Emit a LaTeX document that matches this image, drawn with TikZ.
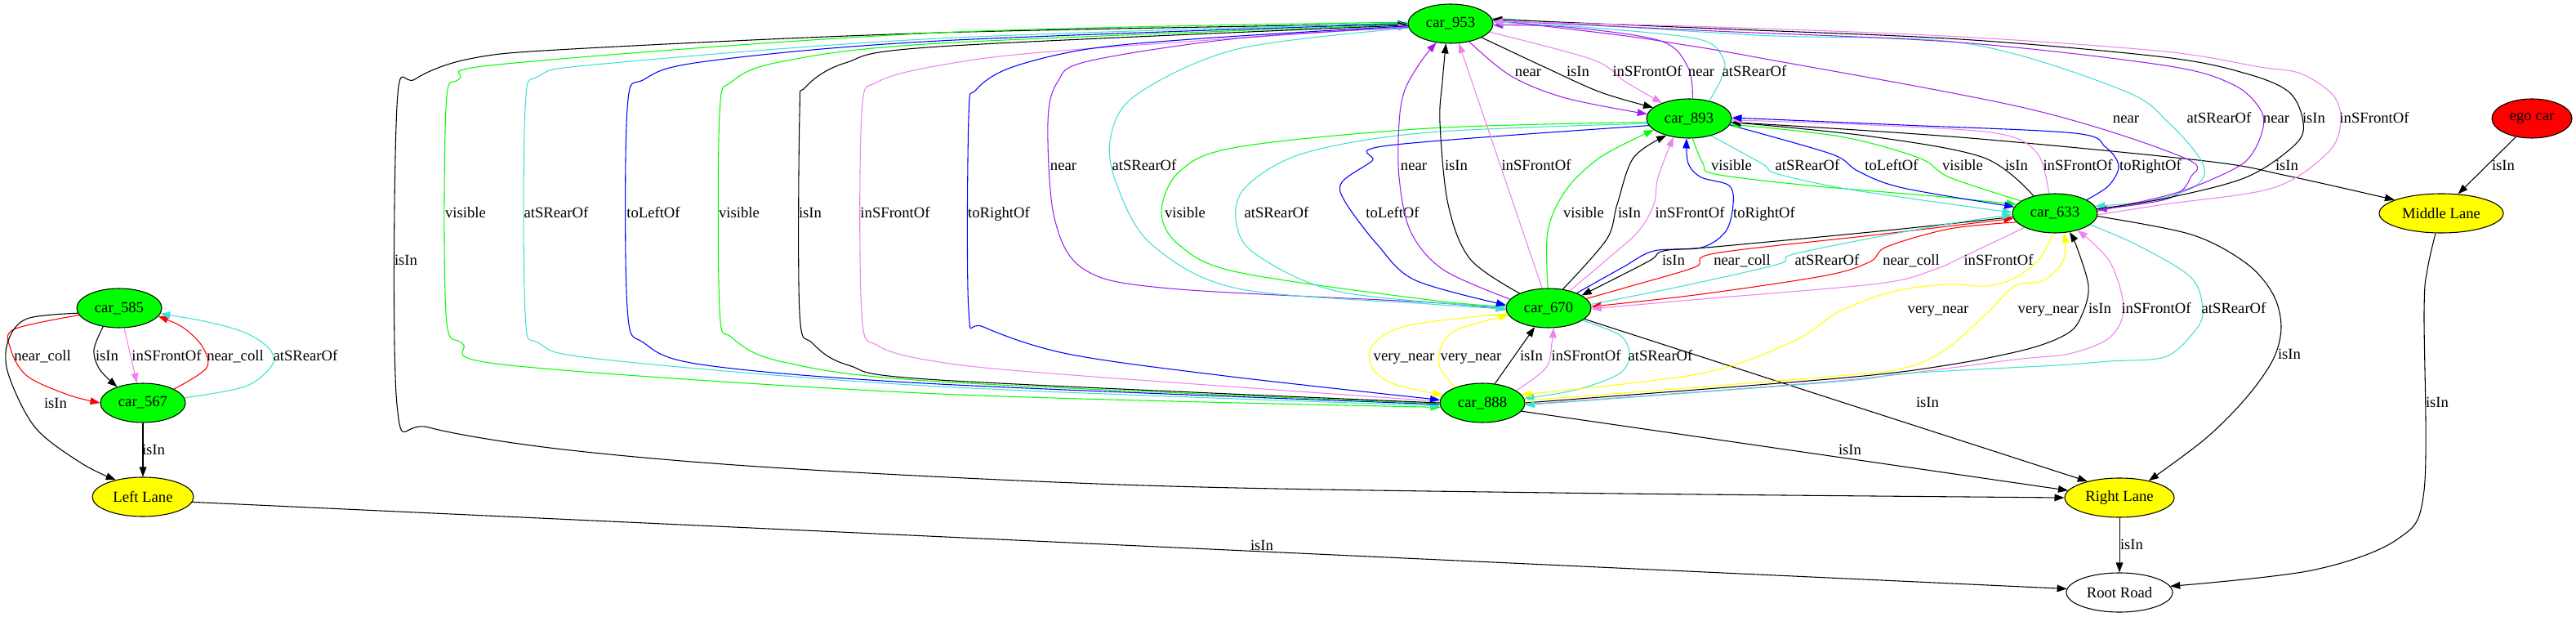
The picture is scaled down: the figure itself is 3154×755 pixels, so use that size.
\documentclass[tikz,border=0pt]{standalone}
\usepackage{fontspec}
\setmainfont{Liberation Serif}
\usetikzlibrary{shapes.geometric,arrows.meta}
\definecolor{xgreen}{HTML}{00FF00}
\definecolor{xturq}{HTML}{40E0D0}
\definecolor{xviolet}{HTML}{EE82EE}
\definecolor{xpurple}{HTML}{A020F0}
\definecolor{xblue}{HTML}{0000FF}
\definecolor{xred}{HTML}{FF0000}
\definecolor{xyellow}{HTML}{FFFF00}
\begin{document}
\begin{tikzpicture}[x=0.75pt,y=-0.75pt,
 every node/.style={font=\fontsize{14pt}{16pt}\selectfont},
 nd/.style={ellipse,draw=black,line width=0.8pt,inner sep=0pt,minimum height=36pt,minimum width=78pt},
 car/.style={nd,fill=xgreen},
 lane/.style={nd,fill=xyellow},
 lbl/.style={inner sep=0pt,anchor=base,yshift=-4.9pt},
 e/.style={line width=0.8pt,line join=round,-{Triangle[length=9pt,width=6.5pt]}},
 sm/.style={smooth,tension=0.55}
]
\useasboundingbox (0,0) rectangle (3154,755);
% nodes
\node[car] (c953) at (1776,29) {car\_953};
\node[car] (c893) at (2068,145) {car\_893};
\node[car] (c633) at (2516,261) {car\_633};
\node[car] (c670) at (1896,377) {car\_670};
\node[car] (c888) at (1815,493) {car\_888};
\node[car] (c585) at (146,377) {car\_585};
\node[car] (c567) at (175,493) {car\_567};
\node[lane,minimum width=93pt] (left) at (175,608) {Left Lane};
\node[lane,minimum width=100.5pt] (right) at (2595,609) {Right Lane};
\node[lane,minimum width=114pt] (middle) at (2989,261) {Middle Lane};
\node[nd,fill=xred,minimum width=73.5pt] (ego) at (3100,145) {ego car};
\node[nd,fill=white,minimum width=97.5pt] (root) at (2595,725) {Root Road};

% ---------- left cluster
\draw[e] plot[sm] coordinates {(c585.229) (115,428) (122,452) (c567.148)};
\draw[e,xviolet] (c585.284) -- (c567.107);
\draw[e,xred] plot[sm] coordinates {(c585.190) (17,403) (13,427) (33,460) (83,483) (c567.180)};
\draw[e,xred] plot[sm] coordinates {(c567.24) (253,450) (247,423) (223,400) (c585.348)};
\draw[e,xturq] plot[sm] coordinates {(c567.7) (300,473) (333,447) (330,427) (300,407) (250,393) (c585.352)};
\draw[e] plot[sm] coordinates {(c585.187) (33,390) (10,417) (10,457) (43,523) (100,567) (left.148)};
\draw[e] (c567) -- (left);
\draw[e] (left.354) -- (root.176);
\node[lbl] (la1) at (131,435) {isIn};
\node[lbl] (la2) at (204,435) {inSFrontOf};
\node[lbl] (la3) at (52,435) {near\_coll};
\node[lbl] (la4) at (288,435) {near\_coll};
\node[lbl] (la5) at (374,435) {atSRearOf};
\node[lbl] (la6) at (68,493) {isIn};
\node[lbl] (la7) at (188,550) {isIn};
\node[lbl] (la8) at (1545,667) {isIn};

% ---------- right simple
\draw[e] (ego.229) -- (middle.49);
\draw[e] plot[sm] coordinates {(middle.254) (2972,330) (2968,380) (2968,600) (2935,660) (2830,698) (root.7)};
\draw[e] (right) -- (root);
\draw[e] plot[sm] coordinates {(c633.356) (2683,287) (2750,322) (2783,360) (2793,400) (2783,440) (2750,487) (2700,537) (right.30)};
\draw[e] (c670.343) -- (right.153);
\draw[e] (c888.348) -- (right.172);
\draw[e] plot[sm] coordinates {(c953.180) (1150,40) (700,60) (575,72) (508,97) (486,130) (486,495) (525,523) (690,550) (960,573) (1400,594) (1900,603) (right.west)};
\draw[e] plot[sm] coordinates {(c893.355) (2400,168) (2700,197) (2800,215) (middle.164)};
\node[lbl] (lb1) at (3065,202) {isIn};
\node[lbl] (lb2) at (2984,492) {isIn};
\node[lbl] (lb3) at (2610,666) {isIn};
\node[lbl] (lb4) at (2803,433) {isIn};
\node[lbl] (lb5) at (2360,492) {isIn};
\node[lbl] (lb6) at (2265,550) {isIn};
\node[lbl] (lb7) at (497,318) {isIn};
\node[lbl] (lb8) at (2800,202) {isIn};

% ---------- loops 888 <-> 953
\draw[e,xgreen] plot[sm] coordinates {(c953.178) (1150,40) (620,78) (562,97) (546,133) (546,383) (566,420) (624,447) (1150,482) (c888.186)};
\draw[e,xturq] plot[sm] coordinates {(c953.179) (1150,47) (740,78) (660,93) (643,133) (643,383) (660,420) (740,440) (1150,473) (c888.184)};
\draw[e,xblue] plot[sm] coordinates {(c888.182) (1150,470) (865,447) (789,420) (768,377) (768,133) (789,97) (865,75) (1150,50) (c953.180)};
\draw[e,xgreen] plot[sm] coordinates {(c888.181) (1150,467) (959,443) (896,413) (881,377) (881,140) (896,100) (959,75) (1150,53) (c953.181)};
\draw[e] plot[sm] coordinates {(c888.180) (1150,465) (1039,447) (995,420) (979,383) (979,140) (986,107) (1035,77) (1150,57) (c953.182)};
\draw[e,xviolet] plot[sm] coordinates {(c888.178) (1300,458) (1150,443) (1075,423) (1055,383) (1055,140) (1075,100) (1162,78) (1300,62) (c953.184)};
\draw[e,xblue] plot[sm] coordinates {(c953.183) (1473,47) (1332,60) (1237,83) (1195,110) (1186,143) (1186,380) (1204,400) (1307,433) (1500,460) (c888.176)};
\node[lbl] (lc1) at (570,260) {visible};
\node[lbl] (lc2) at (681,260) {atSRearOf};
\node[lbl] (lc3) at (800,260) {toLeftOf};
\node[lbl] (lc4) at (905,260) {visible};
\node[lbl] (lc5) at (992,260) {isIn};
\node[lbl] (lc6) at (1096,260) {inSFrontOf};
\node[lbl] (lc7) at (1223,260) {toRightOf};

% ---------- 953 -> 670, 893 -> 670
\draw[e,xpurple] plot[sm] coordinates {(c953.185) (1515,47) (1332,75) (1295,100) (1283,150) (1291,267) (1328,330) (1432,353) (1750,370) (c670.182)};
\draw[e,xturq] plot[sm] coordinates {(c953.186) (1515,60) (1390,117) (1359,173) (1370,233) (1411,300) (1515,353) (1750,372) (c670.181)};
\draw[e,xgreen] plot[sm] coordinates {(c893.185) (1750,157) (1515,180) (1444,210) (1422,260) (1444,300) (1515,333) (1750,367) (c670.178)};
\draw[e,xturq] plot[sm] coordinates {(c893.187) (1750,162) (1598,187) (1527,227) (1513,267) (1536,310) (1640,357) (c670.179)};
\draw[e,xblue] plot[sm] coordinates {(c893.190) (1700,178) (1680,197) (1643,223) (1647,247) (1687,300) (1733,343) (c670.176)};
\node[lbl] (ld1) at (1302,202) {near};
\node[lbl] (ld2) at (1401,202) {atSRearOf};
\node[lbl] (ld3) at (1451,260) {visible};
\node[lbl] (ld4) at (1563,260) {atSRearOf};
\node[lbl] (ld5) at (1705,260) {toLeftOf};

% ---------- 670 -> 953, 670 -> 893
\draw[e,xpurple] plot[sm] coordinates {(c670.167) (1767,330) (1727,283) (1713,217) (1713,150) (1720,110) (1740,75) (c953.233)};
\draw[e] plot[sm] coordinates {(c670.153) (1800,317) (1773,250) (1763,150) (1766,100) (c953.257)};
\draw[e,xviolet] (c670.108) -- (c953.293);
\draw[e,xgreen] plot[sm] coordinates {(c670.92) (1895,283) (1917,233) (1960,192) (c893.198)};
\draw[e] plot[sm] coordinates {(c670.53) (1967,293) (1980,250) (2000,193) (c893.217)};
\draw[e,xviolet] plot[sm] coordinates {(c670.39) (1968,317) (2006,283) (2025,250) (2030,217) (c893.230)};
\draw[e,xblue] plot[sm] coordinates {(c670.28) (1987,327) (2025,307) (2083,303) (2113,283) (2122,250) (2117,227) (2083,217) (2067,200) (c893.263)};
\node[lbl] (le1) at (1731,202) {near};
\node[lbl] (le2) at (1783,202) {isIn};
\node[lbl] (le3) at (1881,202) {inSFrontOf};
\node[lbl] (le4) at (1939,260) {visible};
\node[lbl] (le5) at (1995,260) {isIn};
\node[lbl] (le6) at (2069,260) {inSFrontOf};
\node[lbl] (le7) at (2160,260) {toRightOf};

% ---------- 953 <-> 893
\draw[e,xpurple] plot[sm] coordinates {(c953.316) (1850,93) (1917,120) (c893.174)};
\draw[e] plot[sm] coordinates {(c953.336) (1893,83) (1960,113) (c893.163)};
\draw[e,xviolet] plot[sm] coordinates {(c953.348) (1950,73) (1990,100) (c893.150)};
\draw[e,xpurple] plot[sm] coordinates {(c893.80) (2067,83) (2033,50) (1917,33) (c953.358)};
\draw[e,xturq] plot[sm] coordinates {(c893.41) (2108,95) (2110,72) (2080,48) (1950,34) (c953.2)};
\node[lbl] (lf1) at (1871,87) {near};
\node[lbl] (lf2) at (1932,87) {isIn};
\node[lbl] (lf3) at (2017,87) {inSFrontOf};
\node[lbl] (lf4) at (2083,87) {near};
\node[lbl] (lf5) at (2148,87) {atSRearOf};

% ---------- 893 <-> 633
\draw[e,xgreen] plot[sm] coordinates {(c893.280) (2085,200) (2100,213) (2215,227) (2368,240) (c633.167)};
\draw[e,xturq] plot[sm] coordinates {(c893.322) (2157,200) (2177,213) (2272,233) (c633.179)};
\draw[e,xblue] plot[sm] coordinates {(c893.351) (2215,180) (2253,193) (2276,210) (2330,230) (c633.171)};
\draw[e,xgreen] plot[sm] coordinates {(c633.160) (2387,217) (2349,193) (2253,167) (c893.352)};
\draw[e] plot[sm] coordinates {(c633.141) (2429,193) (2291,167) (c893.355)};
\draw[e,xviolet] plot[sm] coordinates {(c633.107) (2494,187) (2444,163) (2291,153) (c893.358)};
\draw[e,xblue] plot[sm] coordinates {(c633.23) (2582,227) (2594,203) (2578,180) (2540,163) (2330,153) (c893.1)};
\node[lbl] (lg1) at (2120,202) {visible};
\node[lbl] (lg2) at (2213,202) {atSRearOf};
\node[lbl] (lg3) at (2316,202) {toLeftOf};
\node[lbl] (lg4) at (2403,202) {visible};
\node[lbl] (lg5) at (2469,202) {isIn};
\node[lbl] (lg6) at (2544,202) {inSFrontOf};
\node[lbl] (lg7) at (2633,202) {toRightOf};

% ---------- 953 <-> 633 right loops
\draw[e,xpurple] plot[sm] coordinates {(c953.5) (1983,43) (2050,53) (2150,70) (2483,133) (2674,193) (2682,217) (2655,243) (c633.5)};
\draw[e,xturq] plot[sm] coordinates {(c953.8) (2150,43) (2406,53) (2598,110) (2655,150) (2697,200) (2689,227) (2636,245) (c633.10)};
\draw[e,xpurple] plot[sm] coordinates {(c633.3) (2650,240) (2700,223) (2750,197) (2770,160) (2767,133) (2733,103) (2650,80) (2400,52) (2100,38) (c953.4)};
\draw[e] plot[sm] coordinates {(c633.6) (2650,243) (2750,217) (2810,177) (2820,150) (2803,113) (2750,90) (2650,70) (2400,48) (2100,35) (c953.6)};
\draw[e,xviolet] plot[sm] coordinates {(c633.358) (2650,250) (2783,230) (2850,187) (2866,150) (2857,117) (2817,90) (2767,82) (2650,63) (2400,45) (2100,33) (c953.3)};
\node[lbl] (lh1) at (2603,144) {near};
\node[lbl] (lh2) at (2717,144) {atSRearOf};
\node[lbl] (lh3) at (2787,144) {near};
\node[lbl] (lh4) at (2833,144) {isIn};
\node[lbl] (lh5) at (2907,144) {inSFrontOf};

% ---------- 670 <-> 633
\draw[e] plot[sm] coordinates {(c633.185) (2300,283) (2100,302) (2037,307) (2018,320) (c670.21)};
\draw[e,xred] plot[sm] coordinates {(c670.14) (1990,352) (2075,327) (2100,310) (2300,287) (c633.187)};
\draw[e,xturq] plot[sm] coordinates {(c670.5) (2060,350) (2178,323) (2200,310) (2368,277) (c633.182)};
\draw[e,xred] plot[sm] coordinates {(c633.193) (2387,280) (2310,302) (2290,320) (2236,337) (2083,360) (c670.2)};
\draw[e,xviolet] plot[sm] coordinates {(c633.205) (2406,313) (2368,330) (2300,347) (2083,366) (c670.359)};
\node[lbl] (li1) at (2049,318) {isIn};
\node[lbl] (li2) at (2133,318) {near\_coll};
\node[lbl] (li3) at (2237,318) {atSRearOf};
\node[lbl] (li4) at (2340,318) {near\_coll};
\node[lbl] (li5) at (2447,318) {inSFrontOf};

% ---------- 670 <-> 888
\draw[e,xyellow] plot[sm] coordinates {(c670.188) (1800,388) (1717,400) (1680,423) (1680,450) (1707,470) (c888.169)};
\draw[e,xyellow] plot[sm] coordinates {(c888.150) (1763,450) (1765,423) (1785,403) (c670.190)};
\draw[e] (c888.57) -- (c670.234);
\draw[e,xviolet] plot[sm] coordinates {(c888.20) (1893,450) (1900,420) (c670.284)};
\draw[e,xturq] plot[sm] coordinates {(c670.340) (1983,410) (1995,433) (1983,457) (1930,477) (c888.6)};
\node[lbl] (lj1) at (1719,435) {very\_near};
\node[lbl] (lj2) at (1801,435) {very\_near};
\node[lbl] (lj3) at (1875,435) {isIn};
\node[lbl] (lj4) at (1942,435) {inSFrontOf};
\node[lbl] (lj5) at (2033,435) {atSRearOf};

% ---------- 888 <-> 633
\draw[e,xyellow] plot[sm] coordinates {(c633.265) (2497,317) (2467,340) (2433,350) (2383,348) (2317,357) (2250,382) (2197,417) (2083,457) (c888.12)};
\draw[e,xyellow] plot[sm] coordinates {(c888.3) (2250,460) (2333,450) (2383,427) (2433,383) (2467,350) (2503,343) (2527,317) (c633.295)};
\draw[e] plot[sm] coordinates {(c888.0) (2250,463) (2383,447) (2483,427) (2533,407) (2550,383) (2557,350) (2543,303) (c633.308)};
\draw[e,xviolet] plot[sm] coordinates {(c888.358) (2250,466) (2467,440) (2533,433) (2583,413) (2600,377) (2583,320) (c633.323)};
\draw[e,xturq] plot[sm] coordinates {(c633.342) (2617,300) (2683,340) (2697,383) (2683,410) (2650,437) (2583,442) (2517,447) (2333,457) (2250,467) (c888.357)};
\node[lbl] (lk1) at (2373,377) {very\_near};
\node[lbl] (lk2) at (2508,377) {very\_near};
\node[lbl] (lk3) at (2571,377) {isIn};
\node[lbl] (lk4) at (2640,377) {inSFrontOf};
\node[lbl] (lk5) at (2735,377) {atSRearOf};
\end{tikzpicture}
\end{document}
